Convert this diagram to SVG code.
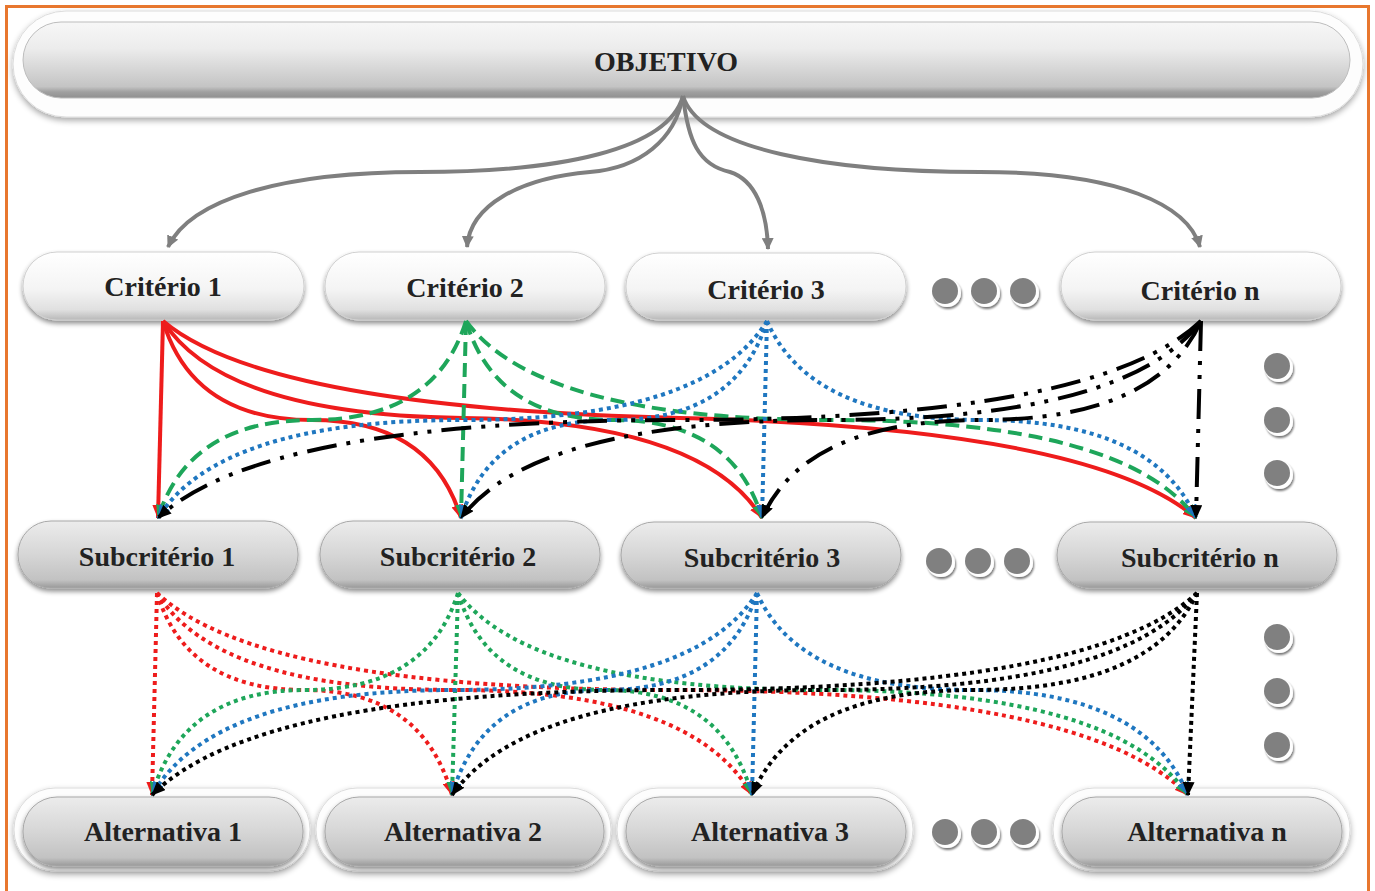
<svg xmlns="http://www.w3.org/2000/svg" width="1375" height="891" viewBox="0 0 1375 891">
  <defs>
    <style>
      .lbl { font-family: "Liberation Serif", "Times New Roman", serif; font-weight: bold; font-size: 28px; fill: #222222; text-anchor: middle; }
      .obj-arrow { fill: none; stroke: #7f7f7f; stroke-width: 4; marker-end: url(#ah-gray); }
      .c-red { fill: none; stroke: #ee1c1c; stroke-width: 4; marker-end: url(#ah-red); }
      .c-green { fill: none; stroke: #1ea65a; stroke-width: 4; stroke-dasharray: 14 7; marker-end: url(#ah-green); }
      .c-blue { fill: none; stroke: #1f77c0; stroke-width: 4; stroke-dasharray: 4 4; marker-end: url(#ah-blue); }
      .c-black { fill: none; stroke: #000; stroke-width: 4; stroke-dasharray: 30 10 4 10 4 10; marker-end: url(#ah-black); }
      .d-red { fill: none; stroke: #ee1c1c; stroke-width: 4; stroke-dasharray: 4 4; marker-end: url(#ah-red); }
      .d-green { fill: none; stroke: #1ea65a; stroke-width: 4; stroke-dasharray: 4 4; marker-end: url(#ah-green); }
      .d-blue { fill: none; stroke: #1f77c0; stroke-width: 4; stroke-dasharray: 4 4; marker-end: url(#ah-blue); }
      .d-black { fill: none; stroke: #000; stroke-width: 4; stroke-dasharray: 4 4; marker-end: url(#ah-black); }
      .pill-white { fill: url(#gWhite); stroke: #d0d0d0; stroke-width: 1; filter: url(#shadow); }
      .pill-gray { fill: url(#gGray); stroke: #a8a8a8; stroke-width: 1; filter: url(#shadow); }
      .halo { fill: #fdfdfd; stroke: #dcdcdc; stroke-width: 1; filter: url(#softShadow); }
    </style>
    <linearGradient id="gWhite" x1="0" y1="0" x2="0" y2="1">
      <stop offset="0" stop-color="#ffffff"/>
      <stop offset="0.55" stop-color="#f4f4f4"/>
      <stop offset="0.85" stop-color="#e0e0e0"/>
      <stop offset="1" stop-color="#b8b8b8"/>
    </linearGradient>
    <linearGradient id="gGray" x1="0" y1="0" x2="0" y2="1">
      <stop offset="0" stop-color="#ececec"/>
      <stop offset="0.5" stop-color="#d6d6d6"/>
      <stop offset="0.88" stop-color="#c2c2c2"/>
      <stop offset="1" stop-color="#999999"/>
    </linearGradient>
    <linearGradient id="gObj" x1="0" y1="0" x2="0" y2="1">
      <stop offset="0" stop-color="#f7f7f7"/>
      <stop offset="0.35" stop-color="#ececec"/>
      <stop offset="0.85" stop-color="#c4c4c4"/>
      <stop offset="0.92" stop-color="#a0a0a0"/>
      <stop offset="1" stop-color="#909090"/>
    </linearGradient>
    <filter id="shadow" x="-5%" y="-20%" width="110%" height="150%">
      <feGaussianBlur in="SourceAlpha" stdDeviation="2.5"/>
      <feOffset dx="0" dy="3" result="o"/>
      <feComponentTransfer><feFuncA type="linear" slope="0.45"/></feComponentTransfer>
      <feMerge><feMergeNode/><feMergeNode in="SourceGraphic"/></feMerge>
    </filter>
    <filter id="softShadow" x="-5%" y="-20%" width="110%" height="150%">
      <feGaussianBlur in="SourceAlpha" stdDeviation="3"/>
      <feOffset dx="0" dy="3" result="o"/>
      <feComponentTransfer><feFuncA type="linear" slope="0.35"/></feComponentTransfer>
      <feMerge><feMergeNode/><feMergeNode in="SourceGraphic"/></feMerge>
    </filter>
    <filter id="dotShadow" x="-50%" y="-50%" width="200%" height="200%">
      <feGaussianBlur in="SourceAlpha" stdDeviation="1"/>
      <feOffset dx="1" dy="2"/>
      <feComponentTransfer><feFuncA type="linear" slope="0.55"/></feComponentTransfer>
      <feMerge><feMergeNode/><feMergeNode in="SourceGraphic"/></feMerge>
    </filter>
    <marker id="ah-gray" viewBox="0 0 12 12" refX="11" refY="6" markerWidth="12" markerHeight="12" markerUnits="userSpaceOnUse" orient="auto">
      <path d="M0,0 L12,6 L0,12 z" fill="#7f7f7f"/>
    </marker>
    <marker id="ah-red" viewBox="0 0 14 12" refX="13" refY="6" markerWidth="14" markerHeight="12" markerUnits="userSpaceOnUse" orient="auto">
      <path d="M0,0 L14,6 L0,12 z" fill="#ee1c1c"/>
    </marker>
    <marker id="ah-green" viewBox="0 0 14 12" refX="13" refY="6" markerWidth="14" markerHeight="12" markerUnits="userSpaceOnUse" orient="auto">
      <path d="M0,0 L14,6 L0,12 z" fill="#1ea65a"/>
    </marker>
    <marker id="ah-blue" viewBox="0 0 14 12" refX="13" refY="6" markerWidth="14" markerHeight="12" markerUnits="userSpaceOnUse" orient="auto">
      <path d="M0,0 L14,6 L0,12 z" fill="#1f77c0"/>
    </marker>
    <marker id="ah-black" viewBox="0 0 14 12" refX="13" refY="6" markerWidth="14" markerHeight="12" markerUnits="userSpaceOnUse" orient="auto">
      <path d="M0,0 L14,6 L0,12 z" fill="#000"/>
    </marker>
    <g id="dot">
      <circle cx="2" cy="2" r="14" fill="#ffffff" filter="url(#dotShadow)"/>
      <circle cx="0" cy="0" r="13" fill="#808080"/>
    </g>
  </defs>

  <rect x="0" y="0" width="1375" height="891" fill="#ffffff"/>
  <!-- frame -->
  <rect x="6.5" y="6.5" width="1362" height="900" fill="none" stroke="#e8772e" stroke-width="3"/>

  <!-- goal -->
  <g id="objetivo">
    <rect class="halo" x="13" y="11" width="1350" height="106" rx="53"/>
    <rect x="23" y="22" width="1327" height="76" rx="38" fill="url(#gObj)" stroke="#bdbdbd" stroke-width="1"/>
    <text class="lbl" x="666" y="71">OBJETIVO</text>
  </g>

  <!-- criteria -->
  <g id="criterio-1">
    <rect class="pill-white" x="23" y="252" width="281" height="68" rx="34"/>
    <text class="lbl" x="163" y="296">Critério 1</text>
  </g>
  <g id="criterio-2">
    <rect class="pill-white" x="325" y="252" width="280" height="68" rx="34"/>
    <text class="lbl" x="465" y="297">Critério 2</text>
  </g>
  <g id="criterio-3">
    <rect class="pill-white" x="626" y="253" width="280" height="67" rx="33"/>
    <text class="lbl" x="766" y="299">Critério 3</text>
  </g>
  <g id="criterio-n">
    <rect class="pill-white" x="1061" y="252" width="280" height="68" rx="34"/>
    <text class="lbl" x="1200" y="300">Critério n</text>
  </g>

  <!-- sub-criteria -->
  <g id="subcriterio-1">
    <rect class="pill-gray" x="18" y="521" width="280" height="67" rx="33"/>
    <text class="lbl" x="157" y="566">Subcritério 1</text>
  </g>
  <g id="subcriterio-2">
    <rect class="pill-gray" x="320" y="521" width="280" height="67" rx="33"/>
    <text class="lbl" x="458" y="566">Subcritério 2</text>
  </g>
  <g id="subcriterio-3">
    <rect class="pill-gray" x="621" y="522" width="280" height="66" rx="33"/>
    <text class="lbl" x="762" y="567">Subcritério 3</text>
  </g>
  <g id="subcriterio-n">
    <rect class="pill-gray" x="1057" y="522" width="280" height="66" rx="33"/>
    <text class="lbl" x="1200" y="567">Subcritério n</text>
  </g>

  <!-- alternatives -->
  <g id="alternativa-1">
    <rect class="halo" x="14" y="788" width="296" height="83" rx="41"/>
    <rect class="pill-gray" x="23" y="797" width="280" height="69" rx="34"/>
    <text class="lbl" x="163" y="841">Alternativa 1</text>
  </g>
  <g id="alternativa-2">
    <rect class="halo" x="316" y="788" width="295" height="83" rx="41"/>
    <rect class="pill-gray" x="325" y="797" width="279" height="69" rx="34"/>
    <text class="lbl" x="463" y="841">Alternativa 2</text>
  </g>
  <g id="alternativa-3">
    <rect class="halo" x="617" y="788" width="296" height="83" rx="41"/>
    <rect class="pill-gray" x="626" y="797" width="280" height="69" rx="34"/>
    <text class="lbl" x="770" y="841">Alternativa 3</text>
  </g>
  <g id="alternativa-n">
    <rect class="halo" x="1053" y="788" width="297" height="83" rx="41"/>
    <rect class="pill-gray" x="1062" y="797" width="280" height="69" rx="34"/>
    <text class="lbl" x="1207" y="841">Alternativa n</text>
  </g>

  <!-- ellipsis dots -->
  <g id="reticencias">
    <use href="#dot" x="945" y="291"/>
    <use href="#dot" x="984" y="291"/>
    <use href="#dot" x="1023" y="291"/>
    <use href="#dot" x="939" y="561"/>
    <use href="#dot" x="978" y="561"/>
    <use href="#dot" x="1017" y="561"/>
    <use href="#dot" x="945" y="832"/>
    <use href="#dot" x="984" y="832"/>
    <use href="#dot" x="1023" y="832"/>
    <use href="#dot" x="1277" y="366"/>
    <use href="#dot" x="1277" y="420"/>
    <use href="#dot" x="1277" y="473"/>
    <use href="#dot" x="1277" y="637"/>
    <use href="#dot" x="1277" y="691"/>
    <use href="#dot" x="1277" y="745"/>
  </g>

  <g id="conectores">
    <!-- goal to criteria -->
    <path class="obj-arrow" d="M683,96 C668,150 560,172 420,172 C280,172 190,200 168,247"/>
    <path class="obj-arrow" d="M683,96 C675,140 640,168 590,172 C520,178 470,205 467,247"/>
    <path class="obj-arrow" d="M683,96 C688,140 698,165 730,172 C755,180 767,210 768,249"/>
    <path class="obj-arrow" d="M683,96 C700,150 830,172 980,172 C1120,172 1188,205 1200,247"/>

    <!-- criterion 1 (solid red) -->
    <path class="c-red" d="M163,321 L158,518"/>
    <path class="c-red" d="M163,321 Q192.8,420 312,420 Q431.2,420 461,518"/>
    <path class="c-red" d="M163,321 Q222.9,415 462.5,418 Q702.1,421 762,518"/>
    <path class="c-red" d="M163,321 Q266.3,408 679.5,418 Q1092.7,428 1196,518"/>
    <!-- criterion 2 (dashed green) -->
    <path class="c-green" d="M466,321 Q435.2,420 312,420 Q188.8,420 158,518"/>
    <path class="c-green" d="M466,321 L461,518"/>
    <path class="c-green" d="M466,321 Q495.6,420 614,420 Q732.4,420 762,518"/>
    <path class="c-green" d="M466,321 Q539,420 831,420 Q1123,420 1196,518"/>
    <!-- criterion 3 (dotted blue) -->
    <path class="c-blue" d="M767,321 Q706.1,420 462.5,420 Q218.9,420 158,518"/>
    <path class="c-blue" d="M767,321 Q736.4,420 614,420 Q491.6,420 461,518"/>
    <path class="c-blue" d="M767,321 L762,518"/>
    <path class="c-blue" d="M767,321 Q809.9,420 981.5,420 Q1153.1,420 1196,518"/>
    <!-- criterion n (dash-dot-dot black) -->
    <path class="c-black" d="M1201,321 Q1096.7,420 679.5,420 Q262.3,420 158,518"/>
    <path class="c-black" d="M1201,321 Q1127,420 831,420 Q535,420 461,518"/>
    <path class="c-black" d="M1201,321 Q1157.1,420 981.5,420 Q805.9,420 762,518"/>
    <path class="c-black" d="M1201,321 L1196,518"/>

    <!-- sub-criterion 1 (dotted red) -->
    <path class="d-red" d="M157,593 L152,795"/>
    <path class="d-red" d="M157,593 Q186.5,690 304.5,690 Q422.5,690 452,795"/>
    <path class="d-red" d="M157,593 Q216.5,690 454.5,690 Q692.5,690 752,795"/>
    <path class="d-red" d="M157,593 Q260.1,690 672.5,690 Q1084.9,690 1188,795"/>
    <!-- sub-criterion 2 (dotted green) -->
    <path class="d-green" d="M458,593 Q427.4,690 305,690 Q182.6,690 152,795"/>
    <path class="d-green" d="M458,593 L452,795"/>
    <path class="d-green" d="M458,593 Q487.4,690 605,690 Q722.6,690 752,795"/>
    <path class="d-green" d="M458,593 Q531,690 823,690 Q1115,690 1188,795"/>
    <!-- sub-criterion 3 (dotted blue) -->
    <path class="d-blue" d="M757,593 Q696.5,690 454.5,690 Q212.5,690 152,795"/>
    <path class="d-blue" d="M757,593 Q726.5,690 604.5,690 Q482.5,690 452,795"/>
    <path class="d-blue" d="M757,593 L752,795"/>
    <path class="d-blue" d="M757,593 Q799.9,690 972.5,690 Q1144.9,690 1188,795"/>
    <!-- sub-criterion n (dotted black) -->
    <path class="d-black" d="M1197,593 Q1092.5,690 674.5,690 Q256.5,690 152,795"/>
    <path class="d-black" d="M1197,593 Q1122.5,690 824.5,690 Q526.5,690 452,795"/>
    <path class="d-black" d="M1197,593 Q1152.5,690 974.5,690 Q796.5,690 752,795"/>
    <path class="d-black" d="M1197,593 L1188,795"/>
  </g>
</svg>
